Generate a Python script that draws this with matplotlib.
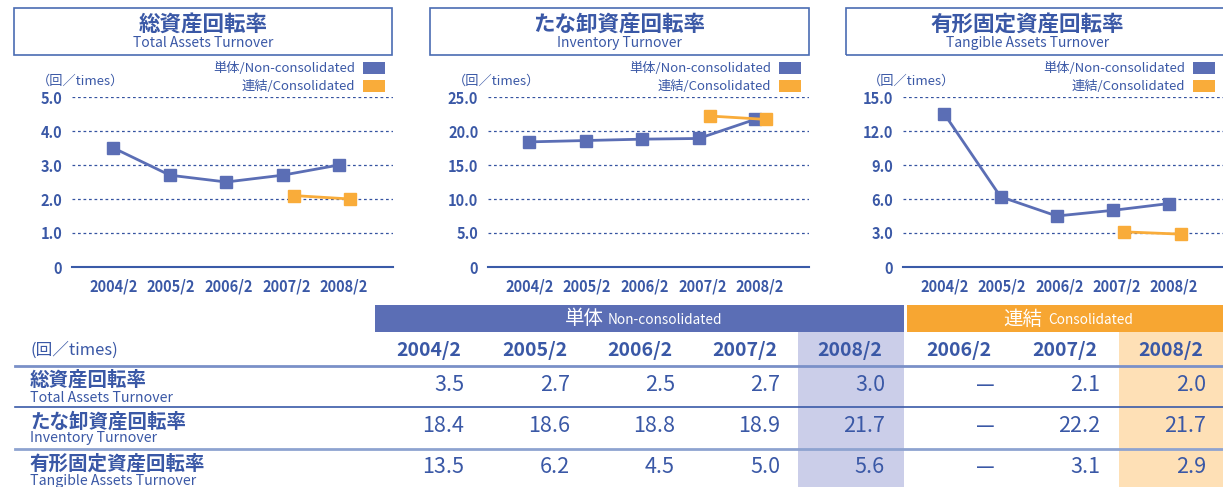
import matplotlib
matplotlib.use('Agg')
import matplotlib.pyplot as plt
from matplotlib.patches import Rectangle

W, H = 1223, 487

# ---------------- data ----------------
years = ['2004/2', '2005/2', '2006/2', '2007/2', '2008/2']
cons_years = ['2006/2', '2007/2', '2008/2']

total_nc = [3.5, 2.7, 2.5, 2.7, 3.0]
total_c = [None, 2.1, 2.0]
inv_nc = [18.4, 18.6, 18.8, 18.9, 21.7]
inv_c = [None, 22.2, 21.7]
tang_nc = [13.5, 6.2, 4.5, 5.0, 5.6]
tang_c = [None, 3.1, 2.9]

titles_jp = ['総資産回転率', 'たな卸資産回転率', '有形固定資産回転率']
titles_en = ['Total Assets Turnover', 'Inventory Turnover', 'Tangible Assets Turnover']
y_max = [5.0, 25.0, 15.0]
y_step = [1.0, 5.0, 3.0]

legend_nc = '単体/Non-consolidated'
legend_c = '連結/Consolidated'
unit_label = '（回／times）'
band_nc = ('単体', 'Non-consolidated')
band_c = ('連結', 'Consolidated')

# ---------------- style ----------------
BLUE = '#5b6eb5'
ORANGE = '#f9ac3a'
TXT = '#3a58a6'
GRID = '#3553a0'
LIGHT_BLUE = '#cbcee9'
LIGHT_ORANGE = '#fee0b6'
FAM = ['Noto Sans CJK JP', 'DejaVu Sans']
CJK = ['Noto Sans CJK JP', 'DejaVu Sans']

fig = plt.figure(figsize=(W / 100, H / 100), dpi=100)


def fx(x):
    return x / W


def fy(y):
    return 1 - y / H


def ptext(x, y, s, **kw):
    kw.setdefault('color', TXT)
    kw.setdefault('family', FAM)
    fig.text(fx(x), fy(y), s, **kw)


def prect(x0, y0, x1, y1, **kw):
    fig.patches.append(Rectangle((fx(x0), fy(y1)), (x1 - x0) / W, (y1 - y0) / H,
                                 transform=fig.transFigure, **kw))


# ---------------- charts ----------------
axis_x = [(72, 393), (488, 809), (903, 1223)]
box_x = [(14, 392), (430, 809), (846, 1232)]
series_nc = [total_nc, inv_nc, tang_nc]
series_c = [total_c, inv_c, tang_c]
AX_TOP, AX_BOT = 97, 267

for k in range(3):
    x0, x1 = axis_x[k]
    ax = fig.add_axes([fx(x0), fy(AX_BOT), (x1 - x0) / W, (AX_BOT - AX_TOP) / H])
    ax.set_xlim(-0.72, 4.85)
    ax.set_ylim(0, y_max[k])
    ax.patch.set_alpha(0)
    for s in ['top', 'left', 'right']:
        ax.spines[s].set_visible(False)
    ax.spines['bottom'].set_color('#3a5ba8')
    ax.spines['bottom'].set_linewidth(1.5)
    n = int(round(y_max[k] / y_step[k]))
    ticks = [i * y_step[k] for i in range(n + 1)]
    ax.set_yticks(ticks)
    ax.set_yticklabels(['0' if t == 0 else f'{t:.1f}' for t in ticks],
                       family=FAM, fontsize=10.5, color=TXT, fontweight='bold')
    ax.set_xticks(range(len(years)))
    ax.set_xticklabels(years, family=FAM, fontsize=10.5, color=TXT, fontweight='bold')
    ax.tick_params(axis='y', length=0, pad=7)
    ax.tick_params(axis='x', length=0, pad=8)
    for t in ticks[1:]:
        ax.axhline(t, color=GRID, lw=0.9, ls=(0, (2.2, 2.2)), zorder=1)
    xs = [i * 0.978 for i in range(len(years))]
    ax.plot(xs, series_nc[k], color=BLUE, lw=2, marker='s', ms=9,
            mec=BLUE, mfc=BLUE, clip_on=False, zorder=3)
    cx, cy = [], []
    for j, v in enumerate(series_c[k]):
        if v is not None:
            i = years.index(cons_years[j])
            cx.append(i * 0.978 + 0.2)
            cy.append(v)
    ax.plot(cx, cy, color=ORANGE, lw=2, marker='s', ms=9,
            mec=ORANGE, mfc=ORANGE, clip_on=False, zorder=4)

    # title box
    b0, b1 = box_x[k]
    prect(b0, 8, b1, 55, fill=False, edgecolor='#4a6cb3', lw=1.2)
    cxm = (b0 + b1) / 2 if k < 2 else (b0 + 1209) / 2
    ptext(cxm, 24, titles_jp[k], ha='center', va='center', fontsize=15.5,
          fontweight='bold', family=CJK)
    ptext(cxm, 43, titles_en[k], ha='center', va='center', fontsize=10)

    # legend
    ptext(x1 - 38, 68, legend_nc, ha='right', va='center', fontsize=9.5)
    ptext(x1 - 38, 86, legend_c, ha='right', va='center', fontsize=9.5)
    prect(x1 - 30, 62, x1 - 8, 74, color=BLUE, lw=0)
    prect(x1 - 30, 80, x1 - 8, 92, color=ORANGE, lw=0)

    # unit
    ptext(x0 - 35, 81, unit_label, ha='left', va='center', fontsize=9.5)

# ---------------- table ----------------
col_nc = [429, 535, 640, 745, 850]
col_c = [959, 1065, 1171]
row_y = [385, 426, 467]
row_jp_y = [380, 422, 464]
row_en_y = [398, 438, 481]

prect(375, 305, 904, 332, color=BLUE, lw=0)
prect(907, 305, W + 5, 332, color='#f7a632', lw=0)
prect(798, 332, 904, H + 5, color=LIGHT_BLUE, lw=0)
prect(1119, 332, W + 5, H + 5, color=LIGHT_ORANGE, lw=0)

ptext(604, 319, band_nc[0], ha='right', va='center', fontsize=14, color='white', family=CJK)
ptext(608, 320, band_nc[1], ha='left', va='center', fontsize=9.8, color='white')
ptext(1042, 319, band_c[0], ha='right', va='center', fontsize=14, color='white', family=CJK)
ptext(1048, 320, band_c[1], ha='left', va='center', fontsize=9.8, color='white')

ptext(30, 350, unit_label.replace('（', '(').replace('）', ')'), ha='left', va='center', fontsize=12)
for x, y in zip(col_nc, years):
    ptext(x, 350, y, ha='center', va='center', fontsize=14, fontweight='bold')
for x, y in zip(col_c, cons_years):
    ptext(x, 350, y, ha='center', va='center', fontsize=14, fontweight='bold')

for y, c, lw in zip([366, 407, 449], ['#7a90c8', '#3a5aa8', '#8ea3d0'], [2, 1.2, 2]):
    fig.add_artist(plt.Line2D([fx(15), fx(W + 5)], [fy(y), fy(y)], color=c, lw=lw,
                              transform=fig.transFigure))

for r in range(3):
    ptext(30, row_jp_y[r], titles_jp[r], ha='left', va='center', fontsize=14,
          fontweight='bold', family=CJK)
    ptext(30, row_en_y[r], titles_en[r], ha='left', va='center', fontsize=10.2)
    for x, v in zip(col_nc, series_nc[r]):
        ptext(x + 35, row_y[r], f'{v:.1f}', ha='right', va='center', fontsize=15.5)
    for x, v in zip(col_c, series_c[r]):
        if v is None:
            ptext(x + 26, row_y[r], '—', ha='center', va='center', fontsize=15)
        else:
            ptext(x + 35, row_y[r], f'{v:.1f}', ha='right', va='center', fontsize=15.5)

fig.savefig('out.png', dpi=100)
